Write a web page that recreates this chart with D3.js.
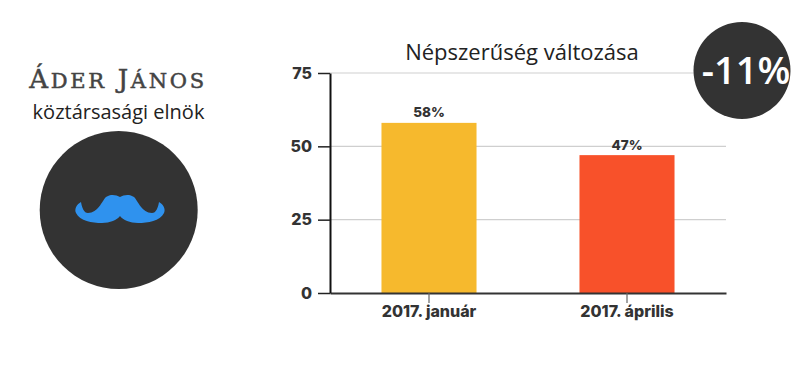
<!DOCTYPE html>
<html>
<head>
<meta charset="utf-8">
<script src="https://cdnjs.cloudflare.com/ajax/libs/d3/7.8.5/d3.min.js"></script>
<style>
html, body { margin: 0; padding: 0; background: #fff; }
svg { display: block; }
.tick text { font-family: Inter, sans-serif; font-weight: 800; fill: #333; }
</style>
</head>
<body>
<div id="chart"></div>
<script>
var categories = ['2017. január', '2017. április'];
var values = [58, 47];
var valueLabels = ['58%', '47%'];
var barColors = ['#f6b92d', '#f8512a'];
var yTicks = [0, 25, 50, 75];
var chartTitle = 'Népszerűség változása';
var personName = ['Áder', 'János'];
var personRole = 'köztársasági elnök';
var changeLabel = '-11%';

var svg = d3.select('#chart')
    .append('svg')
        .attr('width', 800)
        .attr('height', 370)

var x = d3.scaleBand()
    .domain(categories)
    .range([330, 726])
    .paddingInner(0.52)
    .paddingOuter(0.26);

var y = d3.scaleLinear()
    .domain([0, 75])
    .range([293, 73]);

// grid lines first so the bars sit on top
svg.append('g')
    .selectAll('line')
    .data(yTicks.filter(d => d > 0))
    .enter()
    .append('line')
    .attr('x1', 330)
    .attr('x2', 726)
    .attr('y1', d => y(d))
    .attr('y2', d => y(d))
    .style('stroke', '#cfcfcf')
    .style('stroke-width', 1.2)

svg.append('g')
    .selectAll('rect')
    .data(values)
    .enter()
    .append('rect')
    .attr('x', (d, i) => x(categories[i]))
    .attr('y', d => y(d))
    .attr('width', x.bandwidth())
    .attr('height', d => y(0) - y(d))
    .style('fill', (d, i) => barColors[i])

svg.append('g')
    .selectAll('text')
    .data(values)
    .enter()
    .append('text')
    .attr('x', (d, i) => x(categories[i]) + x.bandwidth() / 2)
    .attr('y', d => y(d) - 5.5)
    .attr('text-anchor', 'middle')
    .style('font-family', 'Inter, sans-serif')
    .style('font-weight', 800)
    .style('font-size', '13.5px')
    .style('fill', '#333')
    .text((d, i) => valueLabels[i])

// x axis
var xAxis = svg.append('g')
    .attr('transform', 'translate(0,293)')
    .call(d3.axisBottom(x).tickSize(10).tickSizeOuter(0).tickPadding(3))
xAxis.select('.domain').style('stroke', '#333').style('stroke-width', 2)
xAxis.selectAll('.tick line').style('stroke', '#666').style('stroke-width', 1.2)
xAxis.selectAll('text').style('font-size', '16px')

// y axis
var yAxis = svg.append('g')
    .attr('transform', 'translate(330,0)')
    .call(d3.axisLeft(y).tickValues(yTicks).tickSize(12).tickSizeOuter(0).tickPadding(6).tickFormat(d3.format('d')))
yAxis.select('.domain').style('stroke', '#111').style('stroke-width', 2)
yAxis.selectAll('.tick line').style('stroke', '#222').style('stroke-width', 1.5)
yAxis.selectAll('text').style('font-size', '16px')

svg.append('text')
    .attr('x', 522)
    .attr('y', 60)
    .attr('text-anchor', 'middle')
    .style('font-family', '"Open Sans", sans-serif')
    .style('font-size', '22px')
    .style('fill', '#222')
    .text(chartTitle)

// change badge
svg.append('circle')
    .attr('cx', 742)
    .attr('cy', 70.5)
    .attr('r', 48.5)
    .style('fill', '#333')

svg.append('text')
    .attr('x', 746)
    .attr('y', 84)
    .attr('text-anchor', 'middle')
    .style('font-family', '"Open Sans", sans-serif')
    .style('font-weight', 600)
    .style('font-size', '38px')
    .style('fill', '#fff')
    .text(changeLabel)

// left side, person: big first letter, the rest as slightly smaller capitals
var nameText = svg.append('text')
    .attr('x', 118)
    .attr('y', 88)
    .attr('text-anchor', 'middle')
    .style('font-family', '"DejaVu Serif", serif')
    .style('text-transform', 'uppercase')
    .style('letter-spacing', '2.7px')
    .style('fill', '#444')
    .style('stroke', '#444')
    .style('stroke-width', 0.5)

personName.forEach(function(word, i) {
    nameText.append('tspan')
        .style('font-size', '26px')
        .text((i > 0 ? ' ' : '') + word.charAt(0))
    nameText.append('tspan')
        .style('font-size', '21px')
        .text(word.slice(1))
})

svg.append('text')
    .attr('x', 118.5)
    .attr('y', 119)
    .attr('text-anchor', 'middle')
    .style('font-family', '"Open Sans", sans-serif')
    .style('font-size', '20px')
    .style('fill', '#222')
    .text(personRole)

svg.append('circle')
    .attr('cx', 118.7)
    .attr('cy', 210)
    .attr('r', 79)
    .style('fill', '#333')

// moustache icon, left half then right half
var halfLeft = 'C-4,-15.5 -10,-16 -14,-13 C-18,-9 -22,3 -32,3 C-36,3 -38,-2 -39,-8 C-43,-6 -46,-1 -44,3 C-40,11 -28,13 -18,13 C-10,13 -3,10 0,6';
var halfRight = 'C3,10 10,13 18,13 C28,13 40,11 44,3 C46,-1 43,-6 39,-8 C38,-2 36,3 32,3 C22,3 18,-9 14,-13 C10,-16 4,-15.5 0,-13';
svg.append('path')
    .attr('transform', 'translate(120,210)')
    .attr('d', 'M0,-13 ' + halfLeft + ' ' + halfRight + ' Z')
    .style('fill', '#2f92ee')
</script>
</body>
</html>
